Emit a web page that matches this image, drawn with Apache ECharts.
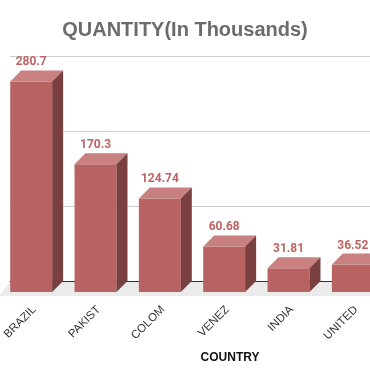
<!DOCTYPE html>
<html>
<head>
<meta charset="utf-8">
<script src="https://cdn.jsdelivr.net/npm/echarts@6/dist/echarts.min.js"></script>
<style>html,body{margin:0;padding:0;background:#fff;}#c{width:370px;height:371px;}</style>
</head>
<body>
<div id="c"></div>
<script>
const categories = ['BRAZIL', 'PAKIST', 'COLOM', 'VENEZ', 'INDIA', 'UNITED'];
const quantities = [280.7, 170.3, 124.74, 60.68, 31.81, 36.52];
const yTicks = [0, 100, 200, 300];

const DEPTH = 11;
const FRONT = '#b86262';
const TOP = '#c88080';
const SIDE = '#7a3f3f';
const LABEL = '#c06262';

const chart = echarts.init(document.getElementById('c'), null, {renderer: 'canvas'});
chart.setOption({
  backgroundColor: '#fff',
  animation: false,
  title: {
    text: 'QUANTITY(In Thousands)',
    left: 'center',
    top: 15,
    textStyle: {fontFamily: 'Liberation Sans, Arial', fontWeight: 'bold', fontSize: 20, color: '#6b6b6b'}
  },
  grid: {left: 10, top: 56, right: -26, bottom: 90, containLabel: false, outerBoundsMode: 'none'},
  xAxis: {
    type: 'category',
    data: categories,
    axisLine: {show: true, lineStyle: {color: '#333', width: 1}},
    axisTick: {show: false},
    axisLabel: {rotate: 45, margin: 19, padding: [0, 11, 0, 0], fontSize: 11.5, color: '#333', fontFamily: 'Liberation Sans, Arial', interval: 0}
  },
  yAxis: {
    type: 'value',
    min: yTicks[0],
    max: yTicks[yTicks.length - 1],
    interval: 100,
    axisLabel: {show: false},
    axisLine: {show: false},
    axisTick: {show: false},
    splitLine: {lineStyle: {color: '#cfcfcf', width: 1}}
  },
  graphic: [{
    type: 'text',
    x: 230, y: 358,
    style: {text: 'COUNTRY', align: 'center', verticalAlign: 'middle', fill: '#111', font: 'bold 12px "Liberation Sans", Arial'}
  }],
  series: [
    {
      type: 'custom',
      z: 1,
      silent: true,
      data: [[0]],
      renderItem: function (params, api) {
        const cs = params.coordSys;
        const y0 = cs.y + cs.height;
        return {
          type: 'polygon',
          shape: {points: [[cs.x, y0 + 1], [cs.x + cs.width, y0 + 1], [cs.x + cs.width - DEPTH, y0 + 15], [cs.x - DEPTH, y0 + 15]]},
          style: {fill: '#ebebeb'}
        };
      }
    },
    {
      type: 'custom',
      z: 3,
      data: quantities.map((v, i) => [i, v]),
      renderItem: function (params, api) {
        const i = api.value(0), v = api.value(1);
        const topP = api.coord([i, v]);
        const baseP = api.coord([i, 0]);
        const bw = api.size([1, 0])[0] * 0.652;
        const cx = topP[0] - DEPTH;
        const xl = cx - bw / 2, xr = cx + bw / 2;
        const yt = topP[1] + DEPTH, yb = baseP[1] + DEPTH;
        return {
          type: 'group',
          children: [
            {type: 'polygon', shape: {points: [[xl, yt], [xr, yt], [xr, yb], [xl, yb]]}, style: {fill: FRONT}},
            {type: 'polygon', shape: {points: [[xl, yt], [xr, yt], [xr + DEPTH, yt - DEPTH], [xl + DEPTH, yt - DEPTH]]}, style: {fill: TOP}},
            {type: 'polygon', shape: {points: [[xr, yt], [xr + DEPTH, yt - DEPTH], [xr + DEPTH, yb - DEPTH], [xr, yb]]}, style: {fill: SIDE}},
            {type: 'text', style: {text: String(v), x: cx, y: yt - DEPTH - 8, align: 'center', verticalAlign: 'middle', fill: LABEL, font: 'bold 12px Roboto'}}
          ]
        };
      }
    }
  ]
});
</script>
</body>
</html>
